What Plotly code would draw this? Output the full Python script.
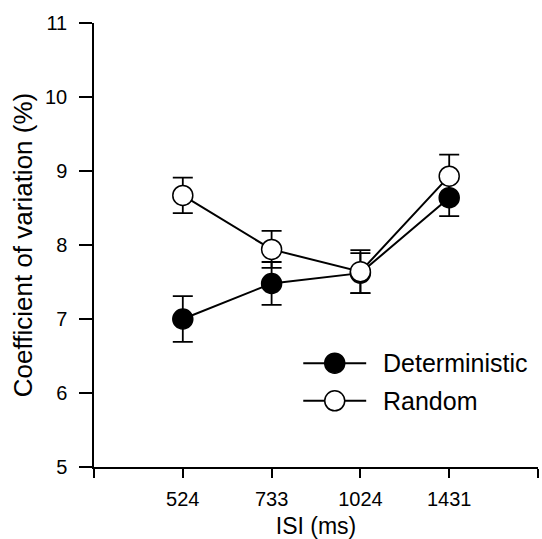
import plotly.graph_objects as go

# ISI conditions (ms) and coefficient of variation (%) with error bars
isi_labels = ["524", "733", "1024", "1431"]
deterministic = [7.00, 7.48, 7.62, 8.64]
deterministic_err = [0.31, 0.29, 0.27, 0.25]
random_cv = [8.67, 7.94, 7.64, 8.93]
random_err = [0.24, 0.25, 0.29, 0.29]

FONT = "Liberation Sans, Arial, sans-serif"
x_pos = list(range(1, len(isi_labels) + 1))

fig = go.Figure()

def add_series(y, err, fill):
    fig.add_trace(go.Scatter(
        x=x_pos, y=y, mode="lines+markers",
        line=dict(color="black", width=2),
        marker=dict(size=20, color=fill, line=dict(color="black", width=1.5)),
        error_y=dict(type="data", array=err, visible=True,
                     color="black", thickness=1.8, width=10),
        showlegend=False, cliponaxis=False,
    ))

add_series(deterministic, deterministic_err, "black")
add_series(random_cv, random_err, "white")

# Legend drawn on an overlay axis measured in page pixels
legend_items = [("Deterministic", "black", 363.3), ("Random", "white", 401.0)]
for name, fill, ly in legend_items:
    fig.add_trace(go.Scatter(
        x=[303, 366], y=[ly, ly], mode="lines",
        line=dict(color="black", width=2),
        xaxis="x2", yaxis="y2", showlegend=False, hoverinfo="skip", cliponaxis=False,
    ))
    fig.add_trace(go.Scatter(
        x=[334.5], y=[ly], mode="markers",
        marker=dict(size=20, color=fill, line=dict(color="black", width=1.5)),
        xaxis="x2", yaxis="y2", showlegend=False, hoverinfo="skip", cliponaxis=False,
    ))
    fig.add_annotation(x=381, y=ly, xref="x2", yref="y2", text=name, showarrow=False,
                       xanchor="left", yanchor="middle",
                       font=dict(family=FONT, size=25, color="black"))

fig.update_layout(
    width=542, height=539,
    margin=dict(l=93.5, r=4, t=22.7, b=71.7),
    paper_bgcolor="white", plot_bgcolor="white",
    font=dict(family=FONT, color="black"),
    xaxis=dict(
        range=[0, len(isi_labels) + 1],
        tickvals=list(range(0, len(isi_labels) + 2)),
        ticktext=[""] + isi_labels + [""],
        ticks="outside", ticklen=9, tickwidth=1.5, tickcolor="black",
        showline=True, linecolor="black", linewidth=1.5,
        showgrid=False, zeroline=False, automargin=False,
        tickfont=dict(family=FONT, size=20, color="black"),
        ticklabelstandoff=4,
        title=dict(text="ISI (ms)", font=dict(family=FONT, size=23, color="black"), standoff=16),
    ),
    yaxis=dict(
        range=[5, 11], dtick=1,
        ticks="outside", ticklen=13, tickwidth=1.5, tickcolor="black",
        showline=True, linecolor="black", linewidth=1.5,
        showgrid=False, zeroline=False, automargin=False,
        tickfont=dict(family=FONT, size=20, color="black"),
        ticklabelstandoff=8,
        title=dict(text="Coefficient of variation (%)", font=dict(family=FONT, size=26, color="black"), standoff=5),
    ),
    xaxis2=dict(range=[93.5, 538], overlaying="x", visible=False, fixedrange=True),
    yaxis2=dict(range=[467.3, 22.7], overlaying="y", visible=False, fixedrange=True),
)

fig.write_html("out.html")
